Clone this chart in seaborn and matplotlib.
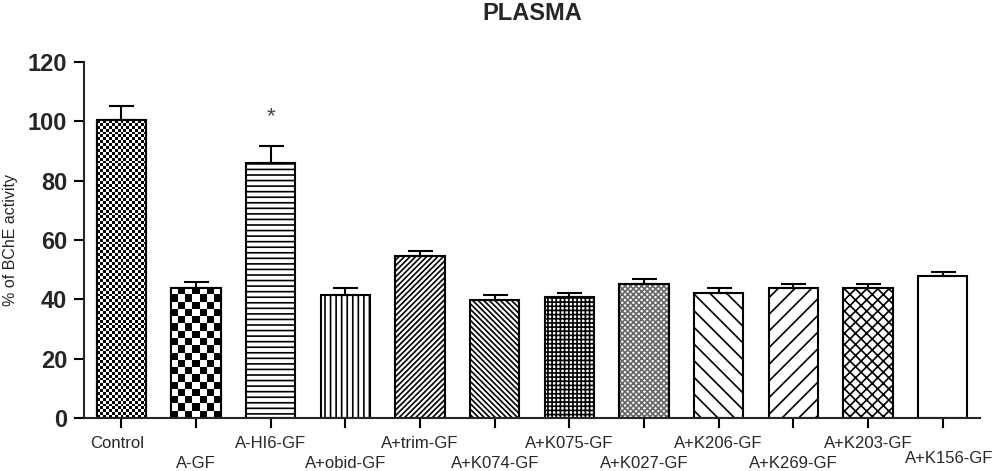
import numpy as np
import matplotlib
matplotlib.use("Agg")
import matplotlib.pyplot as plt
import matplotlib.transforms as mtransforms
import seaborn as sns

# --- Data ---
groups = ["Control", "A-GF", "A-HI6-GF", "A+obid-GF", "A+trim-GF", "A+K074-GF",
          "A+K075-GF", "A+K027-GF", "A+K206-GF", "A+K269-GF", "A+K203-GF", "A+K156-GF"]
means = [100.4, 43.9, 85.9, 41.6, 54.6, 39.8, 40.8, 45.2, 42.2, 43.9, 43.9, 48.0]
sems = [4.8, 1.8, 5.9, 2.2, 1.8, 1.7, 1.3, 1.6, 1.6, 1.3, 1.3, 1.2]
y_ticks = [0, 20, 40, 60, 80, 100, 120]

# fill style per bar ("checker:N" = N checker cells across the bar)
fills = ["checker:17", "checker:7", "---", "|||", "//////", "\\\\\\\\\\\\",
         "++++", "xxxxxx", "\\\\", "//", "xxx", ""]
hatch_colors = {7: "#666666"}

sns.set_style("ticks")
plt.rcParams["font.family"] = ["Liberation Sans", "DejaVu Sans"]
plt.rcParams["hatch.linewidth"] = 1.2

fig = plt.figure(figsize=(10, 4.71), dpi=100)
ax = fig.add_axes([0.084, 0.1125, 0.896, 0.7558])

sns.barplot(x=groups, y=means, color="white", edgecolor="black", linewidth=1.5,
            width=0.66, errorbar=None, saturation=1, ax=ax)

ax.set_xlim(-0.5, 11.5)
ax.set_ylim(0, 120)
ax.set_yticks(y_ticks)

bars = ax.patches[:len(groups)]
centers = [b.get_x() + b.get_width() / 2 for b in bars]

# one-sided error bars (upper only)
ax.errorbar(centers, means, yerr=[np.zeros(len(sems)), sems], fmt="none",
            ecolor="black", elinewidth=1.5, capsize=9, capthick=1.5, zorder=3)

# patterns
fig.canvas.draw()
for i, (bar, f) in enumerate(zip(bars, fills)):
    bar.set_facecolor("white")
    x0, w, h = bar.get_x(), bar.get_width(), bar.get_height()
    if f.startswith("checker"):
        ncols = int(f.split(":")[1])
        p0 = ax.transData.transform((x0, 0))
        p1 = ax.transData.transform((x0 + w, h))
        nrows = max(1, int(round(ncols * abs(p1[1] - p0[1]) / abs(p1[0] - p0[0]))))
        ii, jj = np.indices((nrows, ncols))
        board = ((ii + jj) % 2).astype(float)
        im = ax.imshow(board, cmap="gray", extent=(x0, x0 + w, 0, h), origin="lower",
                       aspect="auto", interpolation="nearest", zorder=bar.get_zorder() + 0.1)
        im.set_clip_path(bar)
        ax.add_patch(plt.Rectangle((x0, 0), w, h, fill=False, edgecolor="black",
                                   linewidth=1.5, zorder=bar.get_zorder() + 0.2))
    elif f:
        bar.set_hatch(f)
        if i in hatch_colors:
            bar.set_edgecolor(hatch_colors[i])
            ax.add_patch(plt.Rectangle((x0, 0), w, h, fill=False, edgecolor="black",
                                       linewidth=1.5, zorder=bar.get_zorder() + 0.2))

ax.set_xlim(-0.5, 11.5)
ax.set_ylim(0, 120)

# significance marker
ax.text(centers[2], 101.5, "*", ha="center", va="center", fontsize=16, color="#444444")

# axes styling
sns.despine(ax=ax)
for s in ["left", "bottom"]:
    ax.spines[s].set_linewidth(1.5)
ax.tick_params(axis="both", direction="out", length=7, width=1.5, color="black")
ax.tick_params(axis="y", labelsize=17, pad=5)
ax.tick_params(axis="x", labelsize=12, pad=6)
for lab in ax.get_yticklabels():
    lab.set_fontweight("bold")

ax.set_ylabel("% of BChE activity", fontsize=11.5, labelpad=7)
ax.set_xlabel("")
ax.set_title("PLASMA", fontsize=17, fontweight="bold", pad=30)

# staggered x labels
for i, lab in enumerate(ax.get_xticklabels()):
    dx, dy = 0.0, 0.0
    if i % 2 == 1:
        dy = -0.20
    if i == 0:
        dx = -0.04
    if i == len(groups) - 1:
        dx, dy = 0.06, -0.15
    lab.set_transform(lab.get_transform() +
                      mtransforms.ScaledTranslation(dx, dy, fig.dpi_scale_trans))

fig.savefig("out.png", dpi=100)
